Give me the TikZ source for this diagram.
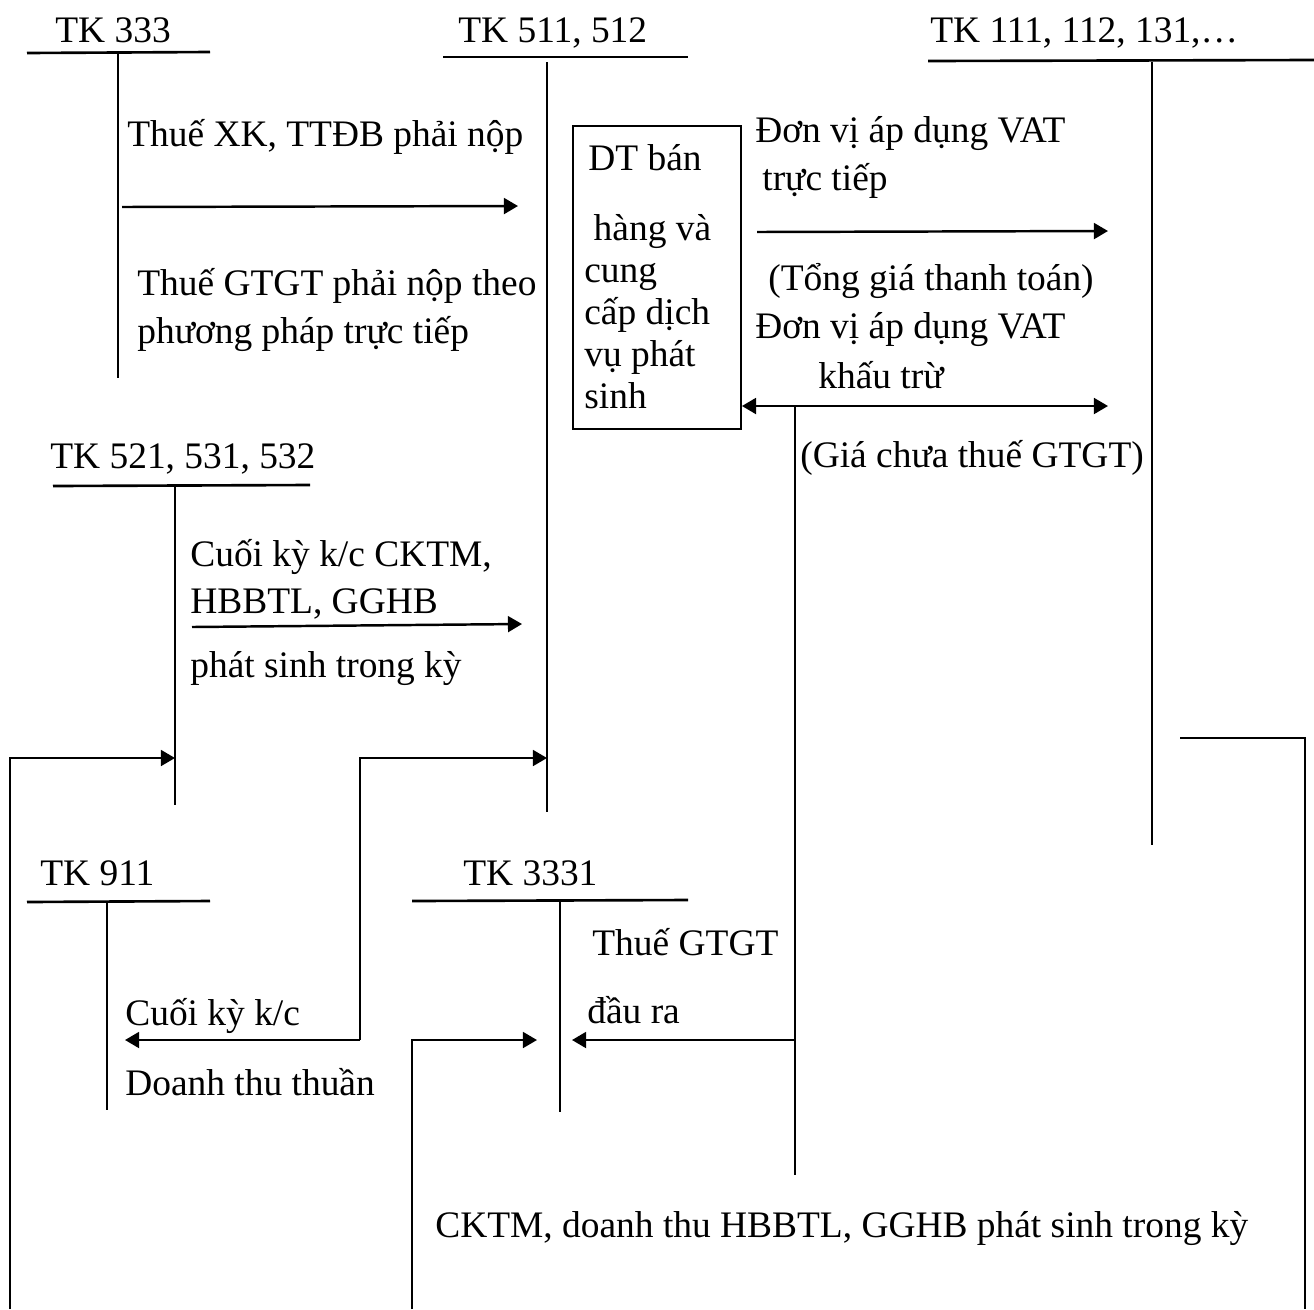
\documentclass[tikz,border=0pt]{standalone}
\usepackage{fontspec}
\setmainfont{Liberation Serif}
\usetikzlibrary{arrows.meta}
\begin{document}
\begin{tikzpicture}[x=0.02cm,y=-0.02cm,
  txt/.style={anchor=base west,inner sep=0pt,font=\fontsize{21.3}{27.3}\selectfont,align=left},
  tbar/.style={line width=1.5pt},
  stem/.style={line width=1.1pt},
  flow/.style={line width=1.3pt},
  arr/.style={line width=1.4pt,-{Triangle[length=8pt,width=9pt]}},
  darr/.style={line width=1.4pt,{Triangle[length=8pt,width=9pt]}-{Triangle[length=8pt,width=9pt]}},
  box/.style={draw,line width=1.1pt,rectangle,inner sep=0pt,anchor=north west,minimum width=168*0.02cm,minimum height=303*0.02cm}]
\useasboundingbox (0,0) rectangle (1314,1309);

% ---------- account headings ----------
\node[txt] (h333)  at (55,42)  {TK 333};
\node[txt] (h511)  at (458,42) {TK 511, 512};
\node[txt] (h111)  at (930,42) {TK 111, 112, 131,…};
\node[txt] (h521)  at (50,468) {TK 521, 531, 532};
\node[txt] (h911)  at (40,885) {TK 911};
\node[txt] (h3331) at (463,885) {TK 3331};

% ---------- T-account bars and stems ----------
\draw[tbar] (27,53) -- (210,52);
\draw[stem] (118,53) coordinate (s333t) -- (118,378) coordinate (s333b);
\draw[tbar] (443,57) -- (688,57);
\draw[stem] (547,62) coordinate (s511t) -- (547,812) coordinate (s511b);
\draw[tbar] (928,61) -- (1314,60);
\draw[stem] (1152,62) coordinate (s111t) -- (1152,845) coordinate (s111b);
\draw[tbar] (53,486) -- (310,485);
\draw[stem] (175,486) coordinate (s521t) -- (175,805) coordinate (s521b);
\draw[tbar] (27,902) -- (210,901);
\draw[stem] (107,902) coordinate (s911t) -- (107,1110) coordinate (s911b);
\draw[tbar] (412,901) -- (688,900);
\draw[stem] (560,901) coordinate (s3331t) -- (560,1112) coordinate (s3331b);

% ---------- revenue box ----------
\node[box] (dt) at (572,125) {};
\node[txt] (dt1) at (588,170) {DT bán};
\node[txt] (dt2) at (584,240) {\ hàng và};
\node[txt] (dt3) at (584,282) {cung};
\node[txt] (dt4) at (584,324) {cấp dịch};
\node[txt] (dt5) at (584,366) {vụ phát};
\node[txt] (dt6) at (584,408) {sinh};

% ---------- TK 333 -> TK 511 ----------
\node[txt] (l1) at (127,146) {Thuế XK, TTĐB phải nộp};
\coordinate (a1s) at (122,207);
\coordinate (a1e) at (518,206);
\draw[arr] (a1s) -- (a1e);
\node[txt] (l2) at (137,343) {Thuế GTGT phải nộp theo\\phương pháp trực tiếp};

% ---------- TK 511 -> TK 111 ----------
\node[txt] (l3) at (755,142) {Đơn vị áp dụng VAT};
\node[txt] (l4) at (762,190) {trực tiếp};
\coordinate (a2s) at (757,232);
\coordinate (a2e) at (1108,231);
\draw[arr] (a2s) -- (a2e);
\node[txt] (l5) at (768,290) {(Tổng giá thanh toán)};
\node[txt] (l6) at (755,338) {Đơn vị áp dụng VAT};
\node[txt] (l7) at (818,388) {khấu trừ};
\coordinate (a3e) at (1108,406);
\draw[darr] (dt.east |- a3e) -- (a3e);
\node[txt] (l8) at (800,467) {(Giá chưa thuế GTGT)};
\coordinate (vtop) at (795,406);
\coordinate (vbot) at (795,1175);
\draw[stem] (vtop) -- (vbot);

% ---------- TK 521 -> TK 511 ----------
\node[txt] (l9)  at (190,566) {Cuối kỳ k/c CKTM,};
\node[txt] (l10) at (190,613) {HBBTL, GGHB};
\coordinate (a4s) at (192,627);
\coordinate (a4e) at (522,624);
\draw[arr] (a4s) -- (a4e);
\node[txt] (l11) at (190,677) {phát sinh trong kỳ};

% ---------- bottom routing ----------
\draw[flow,-{Triangle[length=8pt,width=9pt]}] (10,1309) -- (10,758) -- (s521t |- 0,758);
\draw[flow,-{Triangle[length=8pt,width=9pt]}] (360,1040) -- (360,758) -- (s511t |- 0,758);
\draw[arr] (360,1040) -- (125,1040);
\node[txt] (l12) at (125,1025) {Cuối kỳ k/c};
\node[txt] (l13) at (125,1095) {Doanh thu thuần};

\node[txt] (l14) at (592,955) {Thuế GTGT};
\node[txt] (l15) at (587,1023) {đầu ra};
\draw[arr] (vtop |- 0,1040) -- (572,1040);
\draw[flow,-{Triangle[length=8pt,width=9pt]}] (412,1309) -- (412,1040) -- (537,1040);

\node[txt] (l16) at (435,1237) {CKTM, doanh thu HBBTL, GGHB phát sinh trong kỳ};

\draw[flow] (1180,738) -- (1305,738) -- (1305,1309);
\end{tikzpicture}
\end{document}
